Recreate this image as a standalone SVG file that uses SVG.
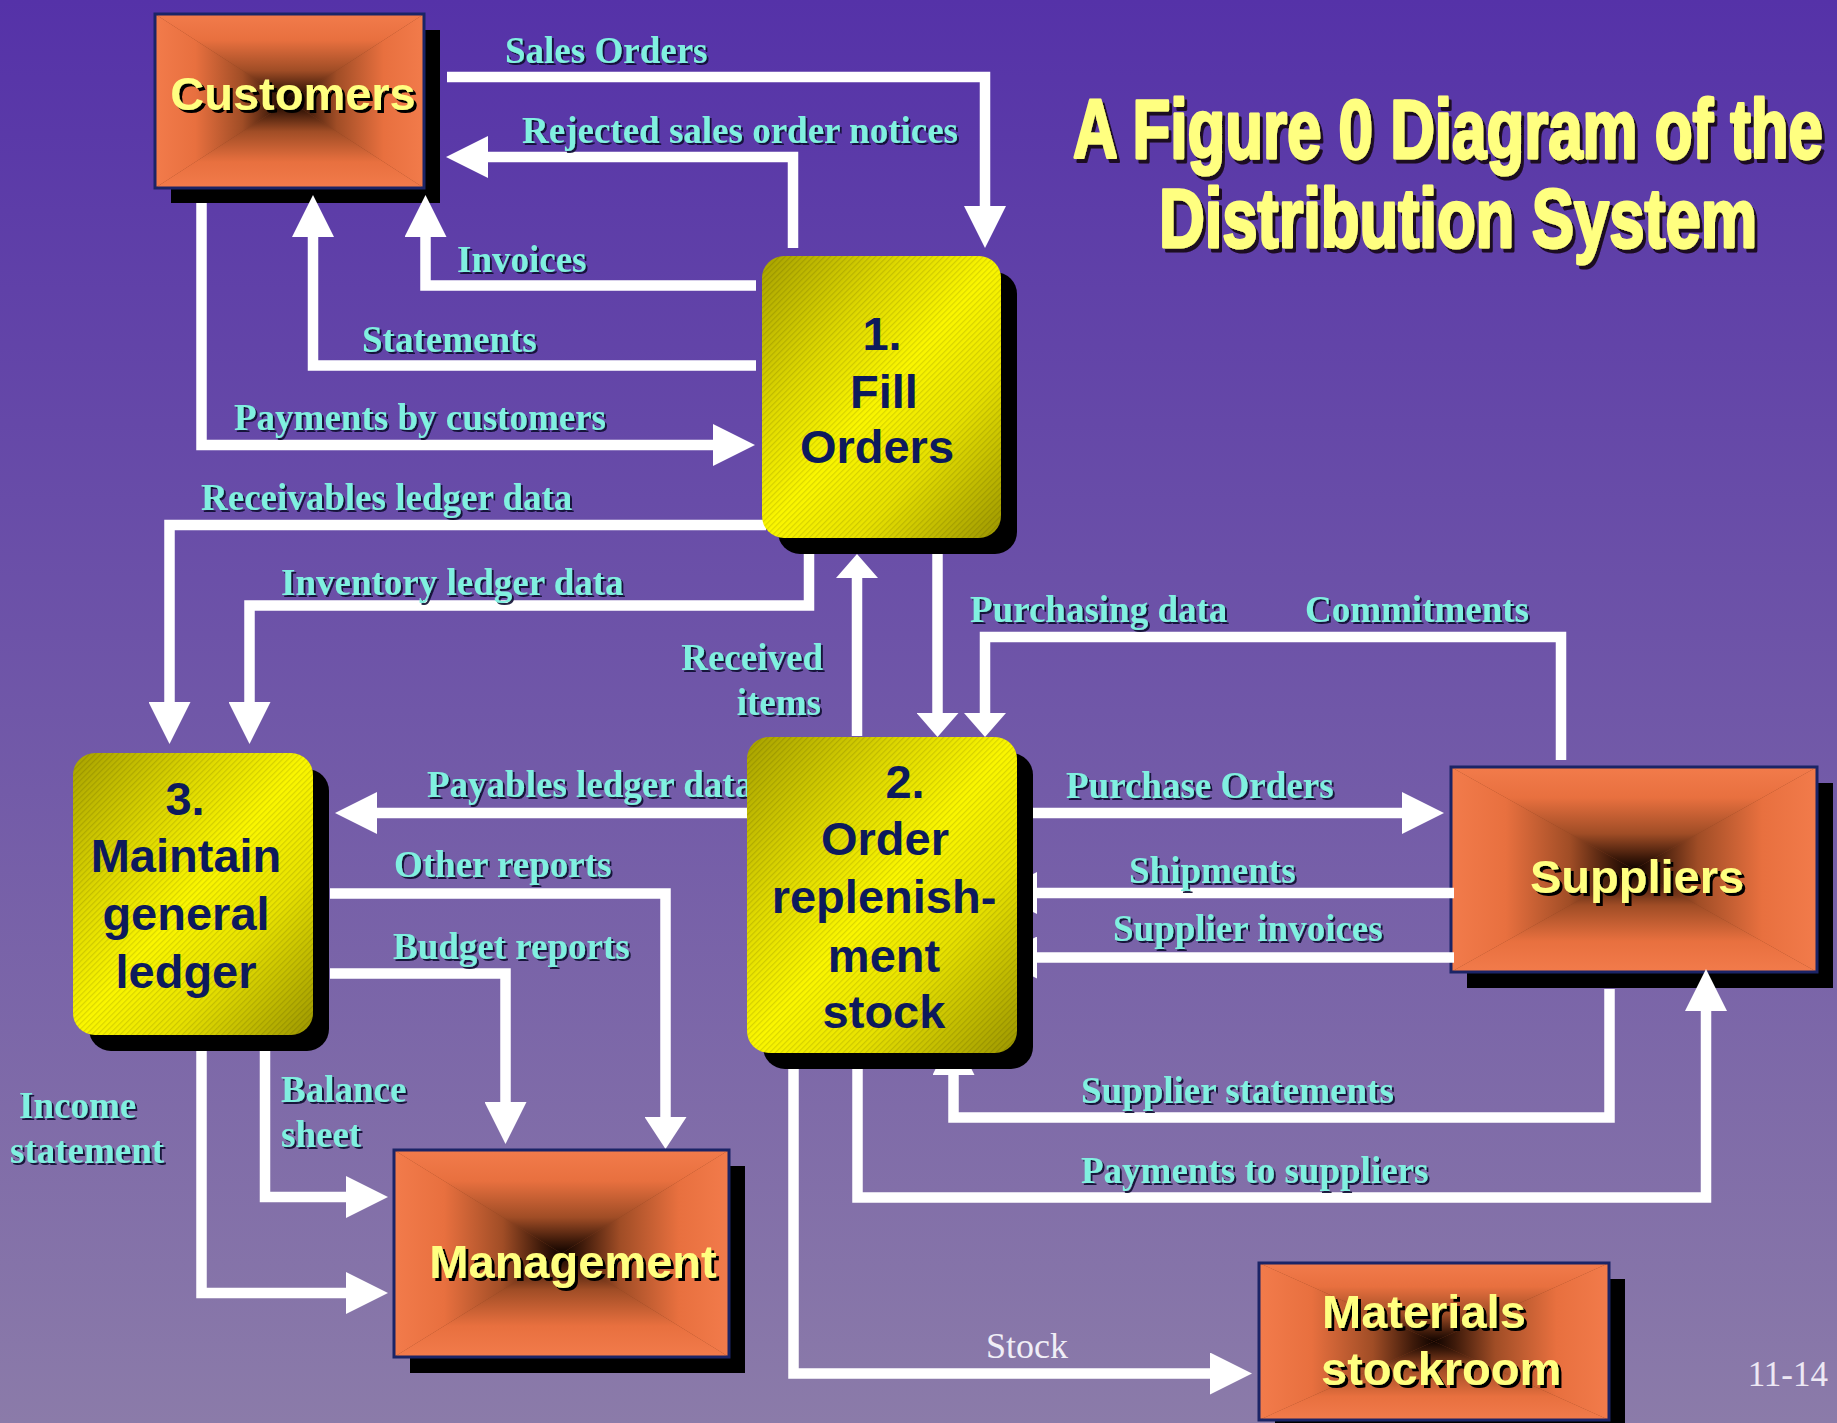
<svg xmlns="http://www.w3.org/2000/svg" width="1837" height="1423" viewBox="0 0 1837 1423">
  <style>
    .flow { fill: none; stroke: #ffffff; stroke-width: 10.5; stroke-linejoin: miter; stroke-linecap: butt; marker-end: url(#arrow); }
    .flow.mid { marker-end: url(#arrow-mid); }
    .flow.short { marker-end: url(#arrow-short); }
    .lbl { font-family: "Liberation Serif", "Times New Roman", serif; font-weight: bold; font-size: 37px; fill: #80F0E0; filter: url(#lblShadow); }
    .ext { font-family: "Liberation Sans", Arial, sans-serif; font-weight: bold; font-size: 47px; fill: #FFFF80; text-anchor: middle; filter: url(#extShadow); }
    .ext.left { text-anchor: start; }
    .proc { font-family: "Liberation Sans", Arial, sans-serif; font-weight: bold; font-size: 47px; fill: #0D1A5C; text-anchor: middle; }
    .drop { fill: #000000; }
    .frame { fill: none; stroke: #1B2466; stroke-width: 3; }
    .core { fill: #8A3F1E; }
    .tri-t { fill: url(#gT); }
    .tri-b { fill: url(#gB); }
    .tri-l { fill: url(#gL); }
    .tri-r { fill: url(#gR); }
    .pbody { fill: url(#yellow); }
    .phatch { fill: url(#hatch); }
    .title { font-family: "Liberation Sans", Arial, sans-serif; font-weight: bold; font-size: 84px; fill: #FFFF80; stroke: #FFFF80; stroke-width: 3; stroke-linejoin: round; filter: url(#titleShadow); }
  </style>
  <defs>
    <linearGradient id="bg" x1="0" y1="0" x2="0" y2="1">
      <stop offset="0" stop-color="#5532A8"/>
      <stop offset="0.5" stop-color="#7057A8"/>
      <stop offset="1" stop-color="#8B7BA9"/>
    </linearGradient>
    <!-- rectangular "pyramid" gradient for external entities, built from four triangles -->
    <linearGradient id="gT" x1="0" y1="0" x2="0" y2="1">
      <stop offset="0" stop-color="#F27B4B"/>
      <stop offset="0.3" stop-color="#E8703F"/>
      <stop offset="0.65" stop-color="#A04D26"/>
      <stop offset="0.88" stop-color="#3E1A0A"/>
      <stop offset="1" stop-color="#100400"/>
    </linearGradient>
    <linearGradient id="gB" href="#gT" x1="0" y1="1" x2="0" y2="0"/>
    <linearGradient id="gL" href="#gT" x1="0" y1="0" x2="1" y2="0"/>
    <linearGradient id="gR" href="#gT" x1="1" y1="0" x2="0" y2="0"/>
    <linearGradient id="yellow" x1="0" y1="0" x2="1" y2="1">
      <stop offset="0" stop-color="#A8A200"/>
      <stop offset="0.3" stop-color="#E0DA00"/>
      <stop offset="0.5" stop-color="#FBF700"/>
      <stop offset="0.7" stop-color="#E8E200"/>
      <stop offset="1" stop-color="#9C9600"/>
    </linearGradient>
    <pattern id="hatch" patternUnits="userSpaceOnUse" width="4" height="4" patternTransform="rotate(45)">
      <rect x="0" y="0" width="1.2" height="4" fill="#000000" fill-opacity="0.12"/>
    </pattern>
    <marker id="arrow" markerUnits="userSpaceOnUse" markerWidth="42" markerHeight="42" refX="0" refY="21" orient="auto">
      <path d="M0,0L42,21L0,42Z" fill="#ffffff"/>
    </marker>
    <marker id="arrow-mid" markerUnits="userSpaceOnUse" markerWidth="32" markerHeight="42" refX="0" refY="21" orient="auto">
      <path d="M0,0L32,21L0,42Z" fill="#ffffff"/>
    </marker>
    <marker id="arrow-short" markerUnits="userSpaceOnUse" markerWidth="24" markerHeight="42" refX="0" refY="21" orient="auto">
      <path d="M0,0L24,21L0,42Z" fill="#ffffff"/>
    </marker>
    <filter id="lblShadow" x="-5%" y="-20%" width="110%" height="140%">
      <feDropShadow dx="2" dy="2" stdDeviation="0.3" flood-color="#101030" flood-opacity="0.9"/>
    </filter>
    <filter id="extShadow" x="-5%" y="-20%" width="110%" height="140%">
      <feDropShadow dx="3" dy="3" stdDeviation="0.3" flood-color="#000000"/>
    </filter>
    <filter id="titleShadow" x="-5%" y="-20%" width="110%" height="140%">
      <feDropShadow dx="4" dy="4" stdDeviation="0.5" flood-color="#1A0F20"/>
    </filter>
  </defs>

  <!-- background -->
  <rect x="0" y="0" width="1837" height="1423" fill="url(#bg)"/>

  <!-- title, bold sans squeezed horizontally into a condensed poster face -->
  <g id="title">
    <text class="title" transform="translate(1073,158) scale(0.736,1)" x="0" y="0">A Figure 0 Diagram of the</text>
    <text class="title" transform="translate(1159,247) scale(0.754,1)" x="0" y="0">Distribution System</text>
  </g>

  <!-- external entity: Customers -->
  <g id="customers">
    <rect class="drop" x="171" y="30" width="269" height="173"/>
    <rect class="core" x="155" y="14" width="269" height="174"/>
    <polygon class="tri-t" points="155,14 424,14 289.5,101"/>
    <polygon class="tri-b" points="155,188 424,188 289.5,101"/>
    <polygon class="tri-l" points="155,14 155,188 289.5,101"/>
    <polygon class="tri-r" points="424,14 424,188 289.5,101"/>
    <rect class="frame" x="155" y="14" width="269" height="174"/>
    <text class="ext" x="293" y="110">Customers</text>
  </g>

  <!-- external entity: Suppliers -->
  <g id="suppliers">
    <rect class="drop" x="1467" y="783" width="366" height="205"/>
    <rect class="core" x="1451" y="767" width="366" height="205"/>
    <polygon class="tri-t" points="1451,767 1817,767 1634,869.5"/>
    <polygon class="tri-b" points="1451,972 1817,972 1634,869.5"/>
    <polygon class="tri-l" points="1451,767 1451,972 1634,869.5"/>
    <polygon class="tri-r" points="1817,767 1817,972 1634,869.5"/>
    <rect class="frame" x="1451" y="767" width="366" height="205"/>
    <text class="ext" x="1637" y="893">Suppliers</text>
  </g>

  <!-- data flows -->
  <g id="connectors">
    <path class="flow" d="M447,77 H985 V206"/>
    <path class="flow" d="M793,248 V157 H488"/>
    <path class="flow" d="M756,285.5 H425.5 V237"/>
    <path class="flow" d="M756,365.5 H313 V237"/>
    <path class="flow" d="M201.5,203 V445 H713"/>
    <path class="flow" d="M766,525 H169.5 V702"/>
    <path class="flow" d="M809,554 V605.5 H249.5 V702"/>
    <path class="flow short" d="M857,736 V578"/>
    <path class="flow short" d="M937.5,554 V713"/>
    <path class="flow short" d="M1561,760 V637 H985 V713"/>
    <path class="flow" d="M747,813 H377"/>
    <path class="flow" d="M1033,813 H1402"/>
    <path class="flow" d="M1454,893 H1037"/>
    <path class="flow" d="M1454,957.5 H1037"/>
    <path class="flow" d="M1609.5,989 V1117.5 H953.5 V1075"/>
    <path class="flow" d="M857.5,1069 V1197.5 H1706 V1011"/>
    <path class="flow" d="M793.5,1069 V1373.5 H1210"/>
    <path class="flow mid" d="M330,893.5 H665.5 V1117"/>
    <path class="flow" d="M330,973.5 H505.5 V1102"/>
    <path class="flow" d="M265,1051 V1197 H346"/>
    <path class="flow" d="M201.5,1051 V1293 H346"/>
  </g>

  <!-- data flow labels -->
  <g id="labels">
    <text class="lbl" x="505" y="63">Sales Orders</text>
    <text class="lbl" x="522" y="143">Rejected sales order notices</text>
    <text class="lbl" x="457" y="272">Invoices</text>
    <text class="lbl" x="362" y="352">Statements</text>
    <text class="lbl" x="234" y="430">Payments by customers</text>
    <text class="lbl" x="201" y="510">Receivables ledger data</text>
    <text class="lbl" x="281" y="595">Inventory ledger data</text>
    <text class="lbl" x="823" y="670" text-anchor="end">Received</text>
    <text class="lbl" x="821" y="715" text-anchor="end">items</text>
    <text class="lbl" x="427" y="797">Payables ledger data</text>
    <text class="lbl" x="394" y="877">Other reports</text>
    <text class="lbl" x="393" y="959">Budget reports</text>
    <text class="lbl" x="281" y="1102">Balance</text>
    <text class="lbl" x="281" y="1147">sheet</text>
    <text class="lbl" x="19" y="1118">Income</text>
    <text class="lbl" x="10" y="1163">statement</text>
    <text class="lbl" x="970" y="622">Purchasing data</text>
    <text class="lbl" x="1305" y="622">Commitments</text>
    <text class="lbl" x="1066" y="798">Purchase Orders</text>
    <text class="lbl" x="1129" y="883">Shipments</text>
    <text class="lbl" x="1113" y="941">Supplier invoices</text>
    <text class="lbl" x="1081" y="1103">Supplier statements</text>
    <text class="lbl" x="1081" y="1183">Payments to suppliers</text>
    <text x="986" y="1358" font-family="Liberation Serif, Times New Roman, serif" font-size="36" fill="#F0EEF6">Stock</text>
  </g>

  <!-- process 1 -->
  <g id="process-1">
    <rect class="drop" x="778" y="272" width="239" height="282" rx="22"/>
    <rect class="pbody" x="762" y="256" width="239" height="282" rx="22"/>
    <rect class="phatch" x="762" y="256" width="239" height="282" rx="22"/>
    <text class="proc" x="882" y="350">1.</text>
    <text class="proc" x="884" y="408">Fill</text>
    <text class="proc" x="877" y="463">Orders</text>
  </g>

  <!-- process 2 -->
  <g id="process-2">
    <rect class="drop" x="763" y="753" width="270" height="316" rx="22"/>
    <rect class="pbody" x="747" y="737" width="270" height="316" rx="22"/>
    <rect class="phatch" x="747" y="737" width="270" height="316" rx="22"/>
    <text class="proc" x="905" y="798">2.</text>
    <text class="proc" x="885" y="855">Order</text>
    <text class="proc" x="884" y="913">replenish-</text>
    <text class="proc" x="884" y="972">ment</text>
    <text class="proc" x="884" y="1028">stock</text>
  </g>

  <!-- process 3 -->
  <g id="process-3">
    <rect class="drop" x="89" y="769" width="240" height="282" rx="22"/>
    <rect class="pbody" x="73" y="753" width="240" height="282" rx="22"/>
    <rect class="phatch" x="73" y="753" width="240" height="282" rx="22"/>
    <text class="proc" x="185" y="815">3.</text>
    <text class="proc" x="186" y="872">Maintain</text>
    <text class="proc" x="186" y="930">general</text>
    <text class="proc" x="186" y="988">ledger</text>
  </g>

  <!-- external entity: Management -->
  <g id="management">
    <rect class="drop" x="410" y="1166" width="335" height="207"/>
    <rect class="core" x="394" y="1150" width="335" height="207"/>
    <polygon class="tri-t" points="394,1150 729,1150 561.5,1253.5"/>
    <polygon class="tri-b" points="394,1357 729,1357 561.5,1253.5"/>
    <polygon class="tri-l" points="394,1150 394,1357 561.5,1253.5"/>
    <polygon class="tri-r" points="729,1150 729,1357 561.5,1253.5"/>
    <rect class="frame" x="394" y="1150" width="335" height="207"/>
    <text class="ext" x="573" y="1278">Management</text>
  </g>

  <!-- external entity: Materials stockroom -->
  <g id="materials-stockroom">
    <rect class="drop" x="1275" y="1279" width="350" height="157"/>
    <rect class="core" x="1259" y="1263" width="350" height="157"/>
    <polygon class="tri-t" points="1259,1263 1609,1263 1434,1341.5"/>
    <polygon class="tri-b" points="1259,1420 1609,1420 1434,1341.5"/>
    <polygon class="tri-l" points="1259,1263 1259,1420 1434,1341.5"/>
    <polygon class="tri-r" points="1609,1263 1609,1420 1434,1341.5"/>
    <rect class="frame" x="1259" y="1263" width="350" height="157"/>
    <text class="ext left" x="1322" y="1328">Materials</text>
    <text class="ext left" x="1321" y="1385">stockroom</text>
  </g>

  <!-- slide number -->
  <text x="1828" y="1386" text-anchor="end" font-family="Liberation Serif, Times New Roman, serif" font-size="35" fill="#EDE8F4">11-14</text>
</svg>
